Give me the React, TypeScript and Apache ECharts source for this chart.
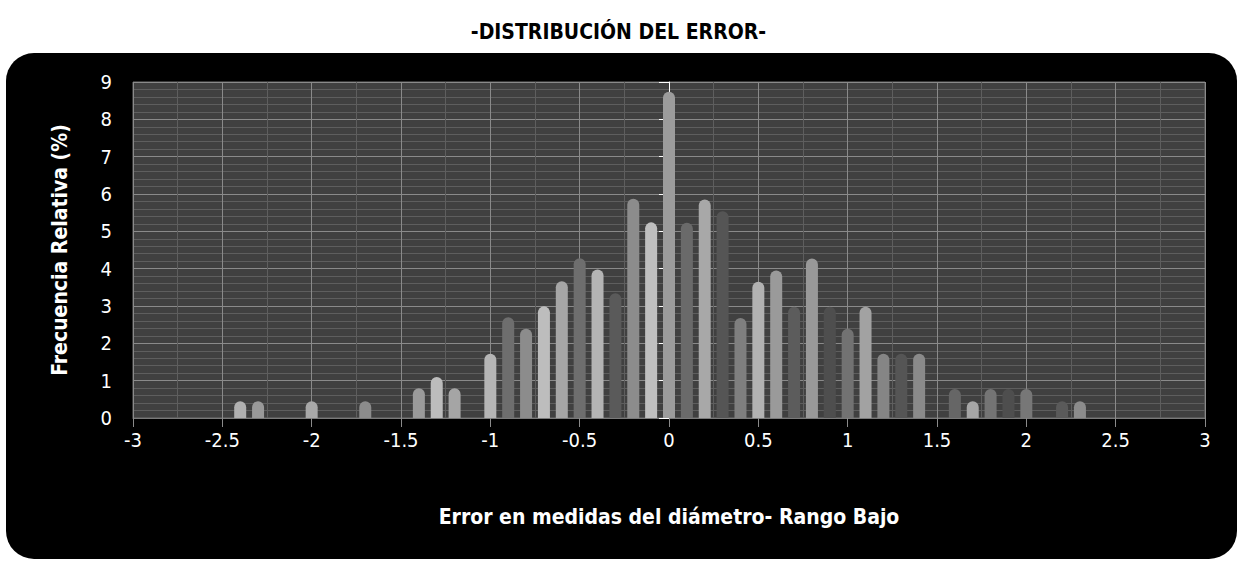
import React, { useEffect, useRef } from 'react';
import * as echarts from 'echarts';

const chartTitle = '-DISTRIBUCIÓN DEL ERROR-';
const xAxisTitle = 'Error en medidas del diámetro- Rango Bajo';
const yAxisTitle = 'Frecuencia Relativa (%)';

const errorValues = [
  -2.4, -2.3, -2.0, -1.7, -1.4, -1.3, -1.2, -1.0, -0.9, -0.8, -0.7, -0.6, -0.5,
  -0.4, -0.3, -0.2, -0.1, 0, 0.1, 0.2, 0.3, 0.4, 0.5, 0.6, 0.7, 0.8, 0.9, 1.0,
  1.1, 1.2, 1.3, 1.4, 1.6, 1.7, 1.8, 1.9, 2.0, 2.2, 2.3,
];
const relFrequency = [
  0.45, 0.45, 0.45, 0.45, 0.8, 1.1, 0.8, 1.72, 2.7, 2.39, 2.99, 3.66, 4.28,
  3.98, 3.34, 5.87, 5.24, 8.74, 5.23, 5.85, 5.54, 2.68, 3.65, 3.95, 2.98, 4.27,
  2.98, 2.39, 2.98, 1.72, 1.72, 1.72, 0.78, 0.45, 0.78, 0.78, 0.78, 0.45, 0.45,
];
const barShades = [
  '#b0b0b0', '#999999', '#a8a8a8', '#8c8c8c', '#9a9a9a', '#bcbcbc', '#a5a5a5',
  '#b5b5b5', '#6e6e6e', '#8c8c8c', '#bdbdbd', '#a6a6a6', '#6e6e6e', '#b4b4b4',
  '#5a5a5a', '#8c8c8c', '#bfbfbf', '#9c9c9c', '#6a6a6a', '#a8a8a8', '#555555',
  '#7f7f7f', '#b2b2b2', '#9a9a9a', '#5c5c5c', '#999999', '#4e4e4e', '#727272',
  '#a2a2a2', '#858585', '#555555', '#8a8a8a', '#666666', '#a6a6a6', '#747474',
  '#4e4e4e', '#777777', '#5a5a5a', '#8c8c8c',
];

const FONT = '"Liberation Sans Narrow", "DejaVu Sans Condensed", "Roboto Condensed", Roboto, sans-serif';

export default function App() {
  const ref = useRef<HTMLDivElement>(null);
  useEffect(() => {
    if (!ref.current) return;
    const chart = echarts.init(ref.current, undefined, { renderer: 'svg' });
    chart.setOption({
      animation: false,
      backgroundColor: '#ffffff',
      graphic: [
        {
          type: 'rect',
          z: -10,
          silent: true,
          shape: { x: 6, y: 53, width: 1231, height: 506, r: 28 },
          style: { fill: '#000000' },
        },
      ],
      title: {
        text: chartTitle,
        left: 'center',
        top: 16,
        textStyle: { fontFamily: FONT, fontSize: 21, fontWeight: 'bold', color: '#000000' },
      },
      grid: {
        left: 133,
        right: 32,
        top: 82,
        bottom: 143,
        show: true,
        backgroundColor: '#404040',
        borderColor: '#6e6e6e',
        borderWidth: 1,
      },
      xAxis: {
        type: 'value',
        min: -3,
        max: 3,
        interval: 0.5,
        name: xAxisTitle,
        nameLocation: 'middle',
        nameGap: 88,
        nameTextStyle: { fontFamily: FONT, fontSize: 21, fontWeight: 'bold', color: '#ffffff' },
        axisLine: { show: true, lineStyle: { color: '#7a7a7a' } },
        axisTick: { show: true, length: 9, lineStyle: { color: '#8a8a8a' } },
        axisLabel: { fontFamily: FONT, fontSize: 20, color: '#ffffff', margin: 12 },
        splitLine: { show: true, lineStyle: { color: '#8a8a8a', width: 1 } },
        minorTick: { show: false, splitNumber: 2 },
        minorSplitLine: { show: true, lineStyle: { color: '#5e5e5e', width: 1 } },
      },
      yAxis: [
        {
          type: 'value',
          min: 0,
          max: 9,
          interval: 1,
          name: yAxisTitle,
          nameLocation: 'middle',
          nameGap: 63,
          nameTextStyle: { fontFamily: FONT, fontSize: 21, fontWeight: 'bold', color: '#ffffff' },
          axisLine: { show: false, onZero: false },
          axisTick: { show: false },
          axisLabel: { fontFamily: FONT, fontSize: 20, color: '#ffffff', margin: 21 },
          splitLine: { show: true, lineStyle: { color: '#8a8a8a', width: 1 } },
          minorTick: { show: false, splitNumber: 5 },
          minorSplitLine: { show: true, lineStyle: { color: '#5e5e5e', width: 1 } },
        },
        {
          type: 'value',
          min: 0,
          max: 9,
          interval: 1,
          position: 'left',
          axisLine: { show: true, onZero: true, lineStyle: { color: '#ffffff', width: 1 } },
          axisTick: { show: true, length: 10, lineStyle: { color: '#ffffff' } },
          axisLabel: { show: false },
          splitLine: { show: false },
        },
      ],
      series: [
        {
          type: 'bar',
          yAxisIndex: 0,
          barWidth: 12,
          z: 3,
          data: errorValues.map((x, i) => ({
            value: [x, relFrequency[i]],
            itemStyle: { color: barShades[i], borderRadius: [6, 6, 0, 0] },
          })),
        },
      ],
    });
    return () => chart.dispose();
  }, []);
  return (
    <div
      ref={ref}
      style={{ position: 'absolute', left: 0, top: 0, width: 1237, height: 561 }}
    />
  );
}
